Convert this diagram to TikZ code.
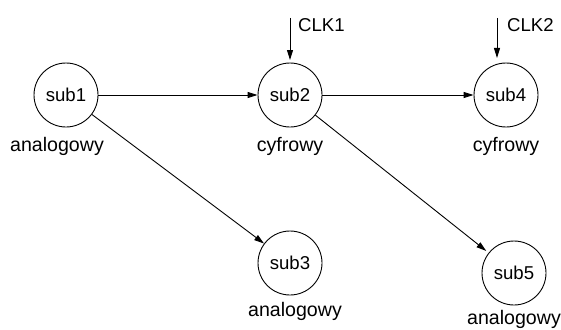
\documentclass[tikz,border=0pt]{standalone}
\usepackage{fontspec}
\setmainfont{Liberation Sans}
\usetikzlibrary{arrows.meta}
\begin{document}
\begin{tikzpicture}[x=1pt,y=-1pt,
  font=\fontsize{18.6}{22}\selectfont,
  sub/.style={circle,draw,line width=0.9pt,minimum size=64pt,inner sep=0pt},
  tag/.style={inner sep=0pt,font=\fontsize{19.6}{23}\selectfont},
  clktext/.style={inner sep=0pt,anchor=west},
  link/.style={line width=0.9pt,-{Triangle[length=10pt,width=6pt]}},
  clk/.style={line width=0.9pt,-{Triangle[length=10pt,width=6pt]}}]
  \useasboundingbox (0,0) rectangle (561,329);

  % subsystems
  \node[sub] (s1) at (66,95)  {sub1};
  \node[sub] (s2) at (290,95) {sub2};
  \node[sub] (s4) at (506,95) {sub4};
  \node[sub] (s3) at (290,263) {sub3};
  \node[sub] (s5) at (514,273) {sub5};

  % subsystem kinds
  \node[tag] (t1) at (57,146)  {analogowy};
  \node[tag] (t2) at (290,146) {cyfrowy};
  \node[tag] (t4) at (506,146) {cyfrowy};
  \node[tag] (t3) at (295,311) {analogowy};
  \node[tag] (t5) at (514,319) {analogowy};

  % clock inputs
  \coordinate (c1) at (290,18);
  \coordinate (c1e) at (290,60);
  \coordinate (c2) at (497,18);
  \coordinate (c2e) at (497,58);
  \node[clktext] (k1) at (298,25) {CLK1};
  \node[clktext] (k2) at (507,25) {CLK2};
  \draw[clk] (c1) -- (c1e);
  \draw[clk] (c2) -- (c2e);

  % signal flow
  \draw[link] (s1) -- (s2);
  \draw[link] (s2) -- (s4);
  \draw[link] (s1) -- (s3);
  \draw[link,shorten >=3pt] (s2) -- (s5);
\end{tikzpicture}
\end{document}
